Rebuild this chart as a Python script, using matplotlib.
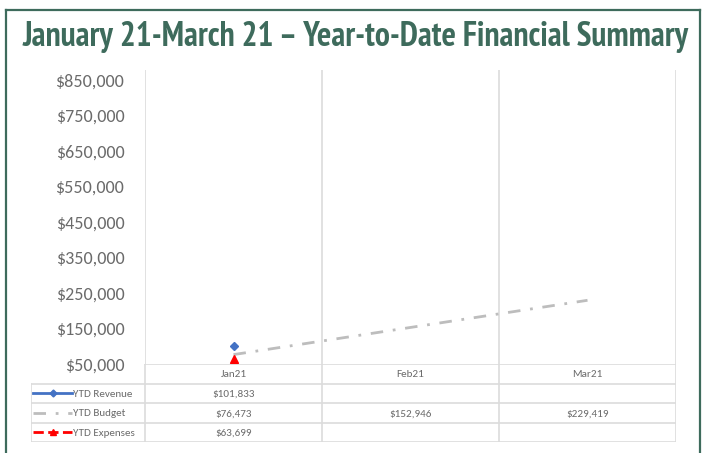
import numpy as np
from matplotlib import pyplot as plt
from matplotlib import font_manager
from matplotlib.lines import Line2D

# data
months = ["Jan21", "Feb21", "Mar21"]
revenue = [101833, None, None]
budget = [76473, 152946, 229419]
expenses = [63699, None, None]
y_ticks = [50000, 150000, 250000, 350000, 450000, 550000, 650000, 750000, 850000]
title = "January 21-March 21 \u2013 Year-to-Date Financial Summary"

W, H = 705, 453
TXT = "#6b6b6b"
GRID = "#dcdcdc"
GREEN = "#3e6b5c"
BLUE = "#4472c4"
GREY = "#bdbdbd"
RED = "#ff0000"


def pick_font(names):
    have = {f.name for f in font_manager.fontManager.ttflist}
    for n in names:
        if n in have:
            return n
    return "DejaVu Sans"


body_font = pick_font(["Carlito", "Lato", "Open Sans"])
title_font = pick_font(["PT Sans Narrow", "Fira Sans Extra Condensed", "Roboto Condensed",
                        "IBM Plex Sans Condensed", "Liberation Sans Narrow", "Roboto"])
plt.rcParams["font.family"] = body_font


def box(l, t, r, b):
    return [l / W, 1 - b / H, (r - l) / W, (b - t) / H]


def fmt(v):
    return "" if v is None else f"${v:,.0f}"


fig = plt.figure(figsize=(W / 100, H / 100), dpi=100)

# outer green frame
for xs, ys in [([6, 700], [10, 10]), ([6, 6], [10, 460]), ([700, 700], [10, 460])]:
    fig.add_artist(Line2D([x / W for x in xs], [1 - y / H for y in ys],
                          color=GREEN, lw=1.6, transform=fig.transFigure))

t = fig.text(356 / W, 1 - 46 / H, title, ha="center", va="baseline",
             fontsize=18, fontweight="bold", color=GREEN, family=title_font)
fig.canvas.draw()
w = t.get_window_extent().width
t.set_fontsize(18 * 668 / w)

# main plot
ax = fig.add_axes(box(145, 70, 676, 364))
x = np.arange(len(months))
ax.set_xlim(-0.5, 2.5)
ax.set_ylim(50000, 878000)
for s in ax.spines.values():
    s.set_visible(False)
for gx in [-0.5, 0.5, 1.5, 2.5]:
    ax.axvline(gx, color=GRID, lw=1.2, zorder=0)
ax.set_xticks([])
ax.set_yticks(y_ticks)
ax.set_yticklabels([fmt(v) for v in y_ticks])
ax.tick_params(axis="y", length=0, pad=15, labelsize=13, labelcolor=TXT)

def series(vals):
    xs = [i for i, v in enumerate(vals) if v is not None]
    return xs, [vals[i] for i in xs]

BUDGET_LS = (0, (4.5, 3.5, 1, 3.5))
bx, by = series(budget)
ax.plot(bx, by, color=GREY, lw=2, linestyle=BUDGET_LS, zorder=2)
rx, ry = series(revenue)
ax.plot(rx, ry, color=BLUE, lw=2, marker="D", markersize=4.5, zorder=3)
ex, ey = series(expenses)
ax.plot(ex, ey, color=RED, lw=2, linestyle="--", marker="^", markersize=6, zorder=3)

# data table
unit = 177.0
def ux(px):
    return -0.5 + (px - 145) / unit

tb = fig.add_axes(box(31, 364, 676, 442))
tb.set_xlim(ux(31), 2.5)
tb.set_ylim(4, 0)
tb.axis("off")
tb.plot([-0.5, 2.5], [0, 0], color=GRID, lw=1.2)
for r in [1, 2, 3, 4]:
    tb.plot([ux(31), 2.5], [r, r], color=GRID, lw=1.2)
tb.plot([ux(31), ux(31)], [1, 4], color=GRID, lw=1.2)
for gx in [-0.5, 0.5, 1.5, 2.5]:
    tb.plot([gx, gx], [0, 4], color=GRID, lw=1.2)

for i, m in enumerate(months):
    tb.text(i, 0.55, m, ha="center", va="center", fontsize=8, color=TXT)

rows = [("YTD Revenue", revenue, BLUE, "-", "D", 3.5),
        ("YTD Budget", budget, GREY, BUDGET_LS, None, 0),
        ("YTD Expenses", expenses, RED, "--", "^", 5)]
for r, (name, vals, c, ls, mk, ms) in enumerate(rows, start=1):
    yc = r + 0.5
    tb.plot([ux(33), ux(72)], [yc, yc], color=c, lw=2, linestyle=ls)
    if mk:
        tb.plot([ux(53)], [yc], color=c, marker=mk, markersize=ms)
    tb.text(ux(73), yc + 0.05, name, ha="left", va="center", fontsize=8, color=TXT)
    for i, v in enumerate(vals):
        tb.text(i, yc + 0.05, fmt(v), ha="center", va="center", fontsize=8, color=TXT)

fig.savefig("out.png", dpi=100)
